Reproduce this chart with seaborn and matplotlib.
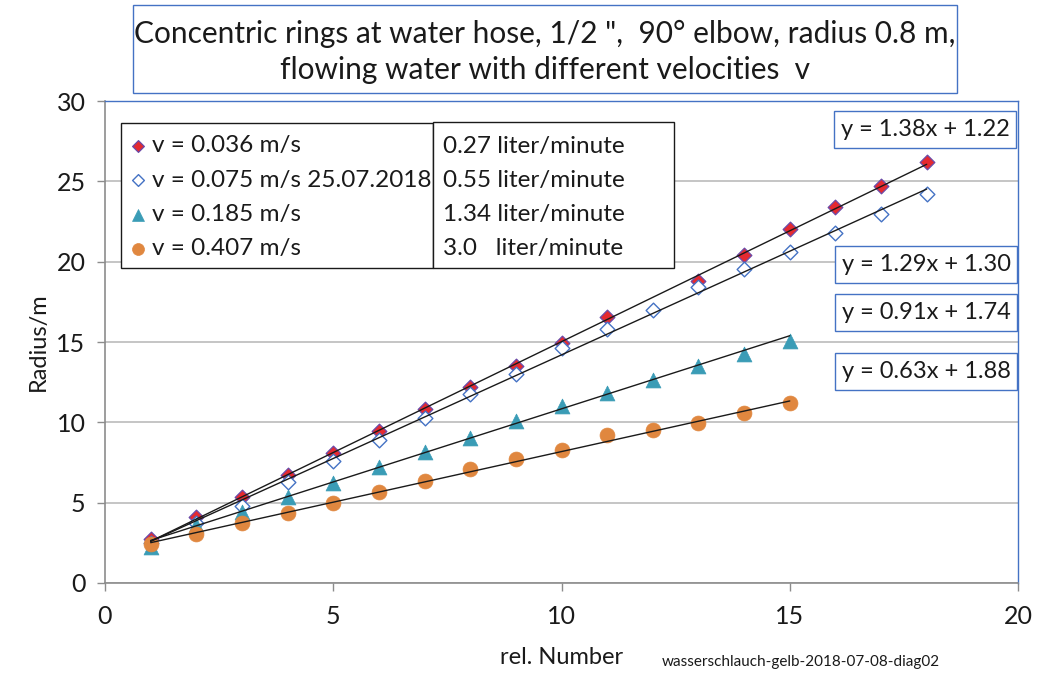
import numpy as np
import pandas as pd
import matplotlib
matplotlib.use("Agg")
import matplotlib.pyplot as plt
from matplotlib.patches import Rectangle
import seaborn as sns

# --- measured ring radii -------------------------------------------------
x_036 = list(range(1, 19))
r_036 = [2.74, 4.09, 5.37, 6.72, 8.11, 9.48, 10.83, 12.22, 13.52, 14.95,
         16.53, np.nan, 18.79, 20.41, 22.03, 23.42, 24.73, 26.20]

x_075 = list(range(1, 19))
r_075 = [2.50, 3.75, 4.81, 6.30, 7.59, 8.90, 10.29, 11.76, 13.00, 14.62,
         15.80, 17.00, 18.44, 19.52, 20.58, 21.80, 22.96, 24.21]

x_185 = list(range(1, 16))
r_185 = [2.26, 3.60, 4.44, 5.37, 6.20, 7.20, 8.17, 9.00, 10.10, 11.01,
         11.85, 12.63, 13.52, 14.25, 15.08]

x_407 = list(range(1, 16))
r_407 = [2.41, 3.05, 3.71, 4.38, 5.00, 5.69, 6.37, 7.07, 7.70, 8.28,
         9.20, 9.52, 9.96, 10.56, 11.18]

series_labels = ["v = 0.036 m/s", "v = 0.075 m/s 25.07.2018",
                 "v = 0.185 m/s", "v = 0.407 m/s"]
flow_labels = ["0.27 liter/minute", "0.55 liter/minute",
               "1.34 liter/minute", "3.0   liter/minute"]

# linear trend lines y = slope * x + intercept
slopes = [1.38, 1.29, 0.91, 0.63]
intercepts = [1.22, 1.30, 1.74, 1.88]

title = ("Concentric rings at water hose, 1/2 \",  90\u00b0 elbow, radius 0.8 m,\n"
         "flowing water with different velocities  v")
x_label = "rel. Number"
y_label = "Radius/m"
footnote = "wasserschlauch-gelb-2018-07-08-diag02"
x_ticks = [0, 5, 10, 15, 20]
y_ticks = [0, 5, 10, 15, 20, 25, 30]

# --- styling -------------------------------------------------------------
sns.set_theme(style="white")
plt.rcParams["font.family"] = ["Lato", "DejaVu Sans"]
TXT = "#1a1a1a"
FS = 17.5

W, H = 1049, 674
fig = plt.figure(figsize=(W / 100, H / 100), dpi=100)


def fx(px):
    return px / W


def fy(py):
    return 1 - py / H


ax = fig.add_axes([fx(105), fy(583), fx(1018) - fx(105), fy(101) - fy(583)])

frames = [
    pd.DataFrame({"x": x_036, "r": r_036}),
    pd.DataFrame({"x": x_075, "r": r_075}),
    pd.DataFrame({"x": x_185, "r": r_185}),
    pd.DataFrame({"x": x_407, "r": r_407}),
]
styles = [
    dict(marker="D", s=56, color="#e42a30", edgecolor="#6a4aa8", linewidth=0.9),
    dict(marker="D", s=56, color="white", edgecolor="#4472c4", linewidth=1.0),
    dict(marker="^", s=115, color="#3a9cb6", edgecolor="#3a9cb6", linewidth=0.5),
    dict(marker="o", s=115, color="#e0873f", edgecolor="#e0873f", linewidth=0.5),
]

for df, st, lab in zip(frames, styles, series_labels):
    sns.scatterplot(data=df.dropna(), x="x", y="r", ax=ax, label=lab,
                    zorder=3, **st)

# trend lines over each series' x range
for df, m, b in zip(frames, slopes, intercepts):
    xs = np.array([df["x"].min(), df["x"].max()])
    ax.plot(xs, m * xs + b, color="#1a1a1a", lw=1.0, zorder=4)

ax.set_xlim(0, 20)
ax.set_ylim(0, 30)
ax.set_xticks(x_ticks)
ax.set_yticks(y_ticks)
ax.yaxis.grid(True, color="#c0c0c0", lw=1.3)
ax.xaxis.grid(False)
ax.set_axisbelow(True)

for side in ("left", "bottom"):
    ax.spines[side].set_color("#8c8c8c")
    ax.spines[side].set_linewidth(1.2)
for side in ("top", "right"):
    ax.spines[side].set_color("#4472c4")
    ax.spines[side].set_linewidth(1.0)

ax.tick_params(axis="both", which="major", direction="out", length=6,
               width=1.0, color="#8c8c8c", labelsize=18, labelcolor=TXT)
ax.tick_params(axis="x", pad=10, bottom=True)
ax.tick_params(axis="y", pad=8, left=True)

ax.set_xlabel(x_label, fontsize=17, color=TXT)
ax.set_ylabel(y_label, fontsize=17, color=TXT)
ax.xaxis.set_label_coords(0.5, -0.132)
ax.yaxis.set_label_coords(-0.062, 0.5)


def frame(x0, y0, x1, y1, edge):
    fig.add_artist(Rectangle((fx(x0), fy(y1)), fx(x1) - fx(x0), fy(y0) - fy(y1),
                             transform=fig.transFigure, facecolor="white",
                             edgecolor=edge, lw=1.0, zorder=5))


# series legend: white frame behind, entries on top
frame(121, 123, 433, 268, "#1a1a1a")
handles, labels = ax.get_legend_handles_labels()
ax.get_legend().remove()
leg = fig.legend(handles, labels, loc="upper left",
                 bbox_to_anchor=(fx(121), fy(125)),
                 bbox_transform=fig.transFigure, fontsize=FS, frameon=False,
                 borderaxespad=0, borderpad=0.42,
                 handlelength=0.52, handletextpad=0.32, labelspacing=0.55,
                 markerscale=0.8)
leg.set_zorder(7)
for t in leg.get_texts():
    t.set_color(TXT)

# flow-rate box next to the legend
frame(433, 122, 674, 268, "#1a1a1a")
for i, t in enumerate(flow_labels):
    fig.text(fx(443), fy(146 + 34 * i), t, fontsize=FS, color=TXT,
             ha="left", va="center", zorder=6)


def boxed(text, x0, y0, x1, y1, size, edge="#4472c4", spacing=1.26, dy=0):
    frame(x0, y0, x1, y1, edge)
    fig.text((fx(x0) + fx(x1)) / 2, fy((y0 + y1) / 2 + dy), text, fontsize=size,
             color=TXT, ha="center", va="center", zorder=6, linespacing=spacing)


# trend line equations
eq_boxes = [(834, 111, 1016, 148), (835, 246, 1017, 283),
            (835, 294, 1017, 331), (835, 353, 1017, 390)]
for m, b, (x0, y0, x1, y1) in zip(slopes, intercepts, eq_boxes):
    boxed(f"y = {m:.2f}x + {b:.2f}", x0, y0, x1, y1, 17)

# title
boxed(title, 133, 5, 957, 93, 21.5, spacing=1.33, dy=3)

fig.text(fx(662), fy(662), footnote, fontsize=11, color=TXT,
         ha="left", va="center")

fig.savefig("out.png", dpi=100)
